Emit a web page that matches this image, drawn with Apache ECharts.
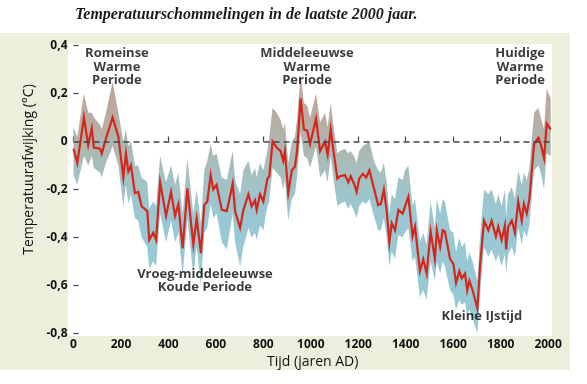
<!DOCTYPE html>
<html><head><meta charset="utf-8">
<script src="https://cdn.jsdelivr.net/npm/echarts@6/dist/echarts.min.js"></script>
<style>html,body{margin:0;padding:0;background:#fff}#c{width:587px;height:384px}</style>
</head><body><div id="c"></div>
<script>
const years=[0,16,44,62,77,86,112,119,137,165,189,210,221,231,242,259,273,287,311,319,336,348,365,390,411,428,442,460,480,505,519,537,551,564,578,589,603,625,646,671,681,702,716,737,751,765,772,786,800,817,825,839,856,873,884,891,905,920,933,943,957,971,985,997,1022,1039,1060,1071,1084,1095,1112,1123,1144,1158,1168,1182,1193,1204,1219,1233,1247,1266,1284,1295,1308,1320,1331,1341,1355,1369,1387,1397,1411,1429,1439,1460,1474,1488,1505,1523,1531,1545,1556,1565,1587,1601,1612,1626,1636,1650,1659,1668,1682,1702,1713,1730,1748,1762,1780,1790,1804,1818,1823,1832,1847,1860,1874,1889,1898,1910,1921,1941,1959,1969,1983,1994,2011];
const temps=[-0.03,-0.09,0.10,-0.015,0.055,-0.025,-0.03,-0.05,0.013,0.10,0.02,-0.15,-0.05,-0.125,-0.10,-0.215,-0.21,-0.27,-0.29,-0.41,-0.38,-0.41,-0.17,-0.31,-0.21,-0.31,-0.26,-0.445,-0.195,-0.43,-0.32,-0.465,-0.265,-0.25,-0.14,-0.20,-0.18,-0.285,-0.29,-0.175,-0.29,-0.36,-0.285,-0.22,-0.27,-0.245,-0.285,-0.22,-0.25,-0.155,-0.145,0.0,-0.025,-0.04,-0.08,-0.04,-0.215,-0.12,-0.105,-0.03,0.18,0.05,0.045,-0.01,0.095,-0.04,0.0,-0.055,0.05,-0.035,-0.155,-0.145,-0.14,-0.17,-0.145,-0.175,-0.21,-0.155,-0.135,-0.15,-0.12,-0.195,-0.265,-0.26,-0.2,-0.29,-0.42,-0.34,-0.37,-0.285,-0.30,-0.27,-0.23,-0.395,-0.355,-0.54,-0.49,-0.55,-0.375,-0.49,-0.37,-0.44,-0.37,-0.375,-0.49,-0.51,-0.59,-0.54,-0.57,-0.55,-0.62,-0.58,-0.62,-0.695,-0.52,-0.33,-0.37,-0.33,-0.395,-0.355,-0.41,-0.35,-0.45,-0.355,-0.33,-0.38,-0.25,-0.33,-0.26,-0.30,-0.24,-0.01,0.015,-0.01,-0.07,0.075,0.05];
const upper=[0.06,0.02,0.20,0.12,0.12,0.10,0.07,0.05,0.12,0.25,0.12,0.0,0.05,-0.02,0.0,-0.10,-0.10,-0.15,-0.17,-0.28,-0.25,-0.27,-0.06,-0.17,-0.10,-0.18,-0.13,-0.30,-0.07,-0.30,-0.20,-0.34,-0.12,-0.08,-0.01,-0.06,-0.05,-0.15,-0.16,-0.04,-0.16,-0.22,-0.12,-0.08,-0.14,-0.11,-0.15,-0.09,-0.12,-0.04,0.02,0.14,0.12,0.09,0.05,0.08,-0.09,0.0,0.02,0.10,0.28,0.16,0.15,0.10,0.20,0.08,0.12,0.06,0.16,0.07,-0.05,-0.04,-0.03,-0.05,-0.04,-0.06,-0.09,-0.04,-0.02,-0.01,0.0,-0.08,-0.12,-0.13,-0.09,-0.17,-0.30,-0.22,-0.24,-0.15,-0.16,-0.12,-0.10,-0.27,-0.24,-0.42,-0.38,-0.43,-0.25,-0.36,-0.24,-0.30,-0.24,-0.25,-0.37,-0.38,-0.46,-0.40,-0.44,-0.42,-0.50,-0.46,-0.50,-0.58,-0.40,-0.20,-0.22,-0.20,-0.26,-0.22,-0.27,-0.20,-0.31,-0.22,-0.19,-0.24,-0.12,-0.18,-0.13,-0.16,-0.11,0.12,0.14,0.10,0.05,0.22,0.18];
const lower=[-0.14,-0.18,-0.06,-0.10,-0.06,-0.11,-0.13,-0.15,-0.09,-0.02,-0.10,-0.27,-0.18,-0.26,-0.22,-0.32,-0.33,-0.40,-0.44,-0.53,-0.50,-0.52,-0.30,-0.42,-0.33,-0.42,-0.38,-0.56,-0.32,-0.56,-0.44,-0.60,-0.38,-0.36,-0.26,-0.32,-0.30,-0.42,-0.45,-0.30,-0.42,-0.52,-0.44,-0.36,-0.40,-0.38,-0.41,-0.35,-0.37,-0.27,-0.25,-0.11,-0.13,-0.15,-0.20,-0.16,-0.33,-0.24,-0.22,-0.14,0.04,-0.06,-0.07,-0.11,-0.02,-0.15,-0.12,-0.17,-0.06,-0.15,-0.27,-0.26,-0.25,-0.28,-0.26,-0.29,-0.32,-0.27,-0.25,-0.26,-0.24,-0.31,-0.37,-0.37,-0.32,-0.40,-0.52,-0.46,-0.49,-0.39,-0.40,-0.38,-0.36,-0.50,-0.48,-0.65,-0.62,-0.66,-0.50,-0.58,-0.50,-0.55,-0.50,-0.52,-0.62,-0.64,-0.70,-0.66,-0.68,-0.67,-0.73,-0.70,-0.74,-0.80,-0.64,-0.44,-0.48,-0.45,-0.50,-0.47,-0.52,-0.47,-0.55,-0.47,-0.44,-0.48,-0.36,-0.43,-0.37,-0.40,-0.35,-0.12,-0.10,-0.13,-0.20,-0.05,-0.06];
const xTickValues=[0,200,400,600,800,1000,1200,1400,1600,1800,2000];
const annoText=['Romeinse\nWarme\nPeriode','Middeleeuwse\nWarme\nPeriode','Huidige\nWarme\nPeriode','Vroeg-middeleeuwse\nKoude Periode','Kleine IJstijd'];
const annoYear=[183,984,1882,554,1721];
const annoValue=[0.31,0.31,0.31,-0.58,-0.73];
const titleText='Temperatuurschommelingen in de laatste 2000 jaar.';
const xName='Tijd (jaren AD)';
const yName='Temperatuurafwijking (°C)';

const chart=echarts.init(document.getElementById('c'),null,{renderer:'canvas'});
const lineData=years.map((y,i)=>[y,temps[i]]);
const annoData=annoYear.map((y,i)=>({value:[y,annoValue[i]],label:{formatter:annoText[i]}}));
const font='"Open Sans", "Noto Sans", sans-serif';
const bandFill={type:'linear',x:0,y:60,x2:0,y2:320,global:true,colorStops:[
  {offset:0,color:'#c49f91'},{offset:0.2,color:'#bcaaa0'},{offset:0.32,color:'#aeb6af'},
  {offset:0.45,color:'#a3c1c3'},{offset:0.6,color:'#99c8d3'},{offset:1,color:'#96cad6'}]};
chart.setOption({
  animation:false,
  backgroundColor:'#ffffff',
  graphic:[
    {type:'rect',z:-10,shape:{x:0,y:33,width:570,height:337},style:{fill:'#eeeedc'}},
    {type:'rect',z:-9,shape:{x:68,y:44,width:484,height:292},style:{fill:'#ffffff'}}
  ],
  title:{text:titleText,left:70,top:2,textStyle:{fontFamily:'"Liberation Serif", serif',fontStyle:'italic',fontWeight:'bold',fontSize:16,color:'#1a1a1a'}},
  grid:{left:73.5,right:35.1,top:45.5,bottom:50.5,containLabel:false},
  xAxis:{type:'value',min:0,max:2016,
    name:xName,nameLocation:'middle',nameGap:17,
    nameTextStyle:{fontFamily:font,fontSize:14,fontWeight:500,color:'#111'},
    axisLine:{show:false},splitLine:{show:false},
    axisTick:{show:true,inside:true,length:5,customValues:xTickValues,lineStyle:{color:'#444',width:1.2}},
    axisLabel:{customValues:xTickValues,margin:5,fontFamily:font,fontSize:12,fontWeight:'bold',color:'#111',formatter:v=>String(v)}},
  yAxis:{type:'value',min:-0.8,max:0.4,interval:0.2,
    name:yName,nameLocation:'middle',nameGap:30,
    nameTextStyle:{fontFamily:font,fontSize:14,fontWeight:500,color:'#111',padding:[0,0,0,40]},
    axisLine:{show:false},splitLine:{show:false},
    axisTick:{show:true,inside:true,length:5,lineStyle:{color:'#444',width:1.2}},
    axisLabel:{margin:6,fontFamily:font,fontSize:12,fontWeight:'bold',color:'#111',
      formatter:v=>{const s=(+v).toFixed(1);return s==='0.0'||s==='-0.0'?'0':s.replace('.',',');}}},
  series:[
    {type:'custom',data:[0],z:2,silent:true,
      renderItem:(params,api)=>{
        const pts=[];
        for(let i=0;i<years.length;i++) pts.push(api.coord([years[i],upper[i]]));
        for(let i=years.length-1;i>=0;i--) pts.push(api.coord([years[i],lower[i]]));
        return {type:'polygon',shape:{points:pts},style:{fill:bandFill}};
      }},
    {type:'line',data:lineData,symbol:'none',z:4,lineStyle:{color:'#d6261c',width:2.2,join:'miter'},
      markLine:{silent:true,symbol:'none',label:{show:false},lineStyle:{color:'#444',type:[6,4],width:1.5},data:[{yAxis:0}]}},
    {type:'scatter',data:annoData,symbolSize:0,z:5,silent:true,
      label:{show:true,position:'inside',align:'center',verticalAlign:'middle',fontFamily:font,fontSize:13,fontWeight:'bold',lineHeight:13.5,color:'#0a0a0a'}}
  ]
});
</script></body></html>
